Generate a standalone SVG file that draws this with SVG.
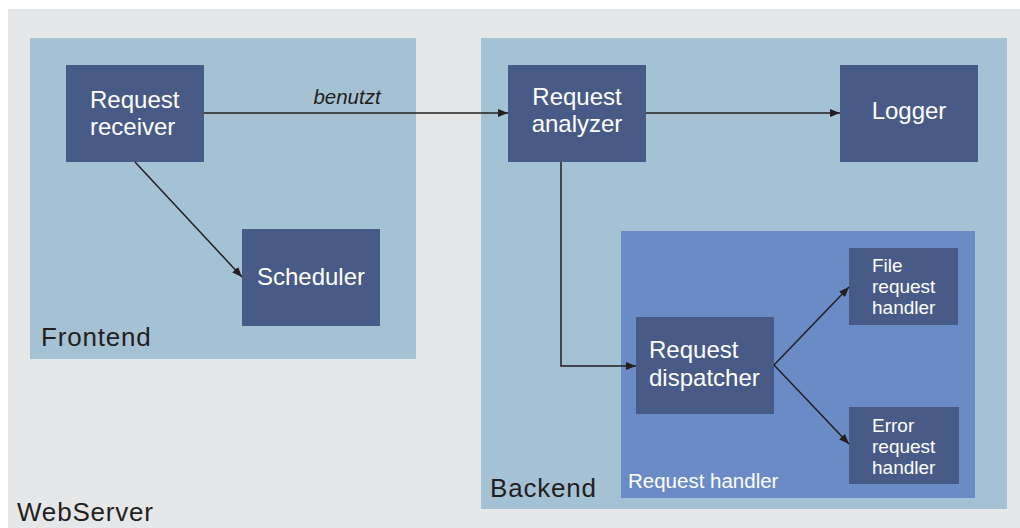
<svg xmlns="http://www.w3.org/2000/svg" width="1020" height="528" viewBox="0 0 1020 528">
<style>
.node{fill:#485b87}
.nt{font-family:"Liberation Sans",Arial,sans-serif;font-size:24px;fill:#ffffff}
.st{font-family:"Liberation Sans",Arial,sans-serif;font-size:19px;fill:#ffffff}
.title{font-family:"Liberation Sans",Arial,sans-serif;font-size:26px;letter-spacing:0.8px;fill:#231f20}
.conn{fill:none;stroke:#231f20;stroke-width:1.5}
.lbl{font-family:"Liberation Sans",Arial,sans-serif;font-size:20.5px;font-style:italic;fill:#231f20}
</style>
<defs>
<marker id="arr" viewBox="0 0 10 8" refX="10" refY="4" markerWidth="10" markerHeight="8" markerUnits="userSpaceOnUse" orient="auto">
<path d="M0,0 L10,4 L0,8 Z" fill="#231f20"/>
</marker>
</defs>
<rect width="1020" height="528" fill="#ffffff"/>
<g id="webserver">
<rect x="8" y="9" width="1012" height="519" fill="#e6e7e9"/>
<text class="title" x="17" y="521">WebServer</text>
</g>
<g id="frontend">
<rect x="30" y="38" width="386" height="321" fill="#a5c2d4"/>
<text class="title" x="41" y="346">Frontend</text>
</g>
<g id="backend">
<rect x="481" y="38" width="526" height="471" fill="#a5c2d4"/>
<text class="title" x="490" y="497">Backend</text>
</g>
<g id="request-handler">
<rect x="621" y="231" width="354" height="267" fill="#6b8bc7"/>
<text x="628" y="488" font-family="Liberation Sans, Arial, sans-serif" font-size="20.5" fill="#ffffff">Request handler</text>
</g>
<g id="request-receiver">
<rect class="node" x="66" y="65" width="138" height="97"/>
<text class="nt" x="90" y="108">Request</text>
<text class="nt" x="90" y="135">receiver</text>
</g>
<g id="scheduler">
<rect class="node" x="242" y="229" width="138" height="97"/>
<text class="nt" x="311" y="285" text-anchor="middle">Scheduler</text>
</g>
<g id="request-analyzer">
<rect class="node" x="508" y="65" width="138" height="97"/>
<text class="nt" x="577" y="105" text-anchor="middle">Request</text>
<text class="nt" x="577" y="132" text-anchor="middle">analyzer</text>
</g>
<g id="logger">
<rect class="node" x="840" y="65" width="138" height="97"/>
<text class="nt" x="909" y="119" text-anchor="middle">Logger</text>
</g>
<g id="request-dispatcher">
<rect class="node" x="636" y="317" width="138" height="97"/>
<text class="nt" x="649" y="358">Request</text>
<text class="nt" x="649" y="386">dispatcher</text>
</g>
<g id="file-request-handler">
<rect class="node" x="849" y="248" width="109" height="77"/>
<text class="st" x="872" y="272">File</text>
<text class="st" x="872" y="293">request</text>
<text class="st" x="872" y="314">handler</text>
</g>
<g id="error-request-handler">
<rect class="node" x="849" y="407" width="110" height="77"/>
<text class="st" x="872" y="432">Error</text>
<text class="st" x="872" y="453">request</text>
<text class="st" x="872" y="474">handler</text>
</g>
<g id="connectors">
<path class="conn" d="M204,113 L508,113" marker-end="url(#arr)"/>
<text class="lbl" x="347" y="104" text-anchor="middle">benutzt</text>
<path class="conn" d="M135,162 L242,277" marker-end="url(#arr)"/>
<path class="conn" d="M646,113 L840,113" marker-end="url(#arr)"/>
<path class="conn" d="M561,162 L561,366 L636,366" marker-end="url(#arr)"/>
<path class="conn" d="M774,365 L849,287" marker-end="url(#arr)"/>
<path class="conn" d="M774,365 L849,444" marker-end="url(#arr)"/>
</g>
</svg>
